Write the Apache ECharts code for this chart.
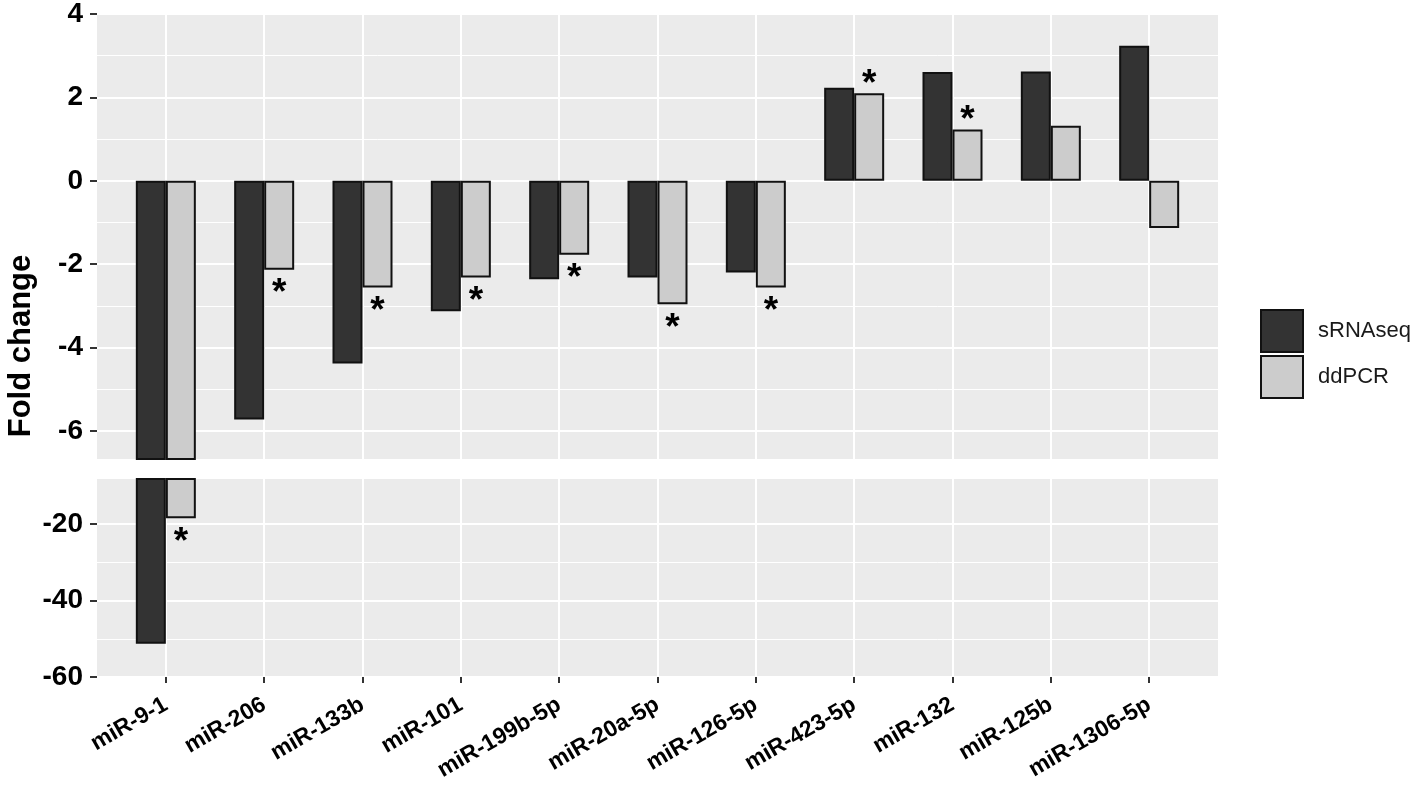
<!DOCTYPE html>
<html><head><meta charset="utf-8">
<script src="https://cdn.jsdelivr.net/npm/echarts@6/dist/echarts.min.js"></script>
<style>html,body{margin:0;padding:0;background:#fff}#c{width:1416px;height:788px}</style>
</head><body><div id="c"></div>
<script>
const categories = ['miR-9-1','miR-206','miR-133b','miR-101','miR-199b-5p','miR-20a-5p','miR-126-5p','miR-423-5p','miR-132','miR-125b','miR-1306-5p'];
const sRNAseq = [-51.3,-5.72,-4.38,-3.13,-2.36,-2.32,-2.20,2.23,2.61,2.62,3.24];
const ddPCR = [-18.5,-2.13,-2.56,-2.32,-1.77,-2.96,-2.56,2.10,1.23,1.32,-1.13];
const sRNAseqSignificant = [false,false,false,false,false,false,false,false,false,false,false];
const ddPCRSignificant = [true,true,true,true,true,true,true,true,true,false,false];
const topTicks = [-6,-4,-2,0,2,4];
const topMinor = [-5,-3,-1,1,3];
const bottomTicks = [-60,-40,-20];
const bottomMinor = [-50,-30];
const topRange = [-6.67, 4];
const bottomRange = [-60, -8.2];
const seriesNames = ['sRNAseq','ddPCR'];

const FONT = 'Liberation Sans, Arial, sans-serif';
const idx = categories.map((c,i)=>i);
const fills = {sRNAseq:'#333333', ddPCR:'#cccccc'};

function xAxisDef(grid, showLabels){
  return {
    type:'value', gridIndex:grid, min:-0.7, max:10.7, position:'bottom',
    axisLine:{show:false, onZero:false},
    axisTick:{show:showLabels, customValues:idx, length:6, lineStyle:{color:'#333', width:2}},
    axisLabel:{show:showLabels, customValues:idx, rotate:30, margin:26,
      formatter:v=>categories[Math.round(v)] || '',
      fontFamily:FONT, fontWeight:'bold', fontSize:23, color:'#000'},
    splitLine:{show:true, lineStyle:{color:'#fff', width:2}}
  };
}
function yAxisDef(grid, range, ticks, major){
  return {
    type:'value', gridIndex:grid, min:range[0], max:range[1], position:'left',
    axisLine:{show:false, onZero:false},
    axisTick:{show:major, customValues:ticks, length:7, lineStyle:{color:'#333', width:2}},
    axisLabel:{show:major, customValues:ticks, margin:14,
      fontFamily:FONT, fontWeight:'bold', fontSize:28, color:'#000'},
    splitLine:{show:true, lineStyle:{color:'#fff', width:major?2:1}}
  };
}
function barSeries(name, values, sig, grid, yIndex, range){
  return {
    type:'bar', name:name, xAxisIndex:grid, yAxisIndex:yIndex,
    barWidth:30, barGap:'0%', clip:true,
    itemStyle:{color:fills[name], borderColor:'#111', borderWidth:2},
    label:{show:false, formatter:'*', fontFamily:FONT, fontWeight:'bold', fontSize:37, color:'#000'},
    emphasis:{disabled:true},
    data: values.map((v,i)=>{
      const inside = v >= range[0] && v <= range[1];
      return {value:[i, v], label:{show: sig[i] && inside,
        position: v >= 0 ? 'top' : 'bottom', distance: v >= 0 ? -10 : 6}};
    })
  };
}

const chart = echarts.init(document.getElementById('c'), null, {renderer:'canvas'});
chart.setOption({
  animation:false,
  backgroundColor:'#fff',
  grid:[
    {left:97, width:1121, top:13, height:446, show:true, backgroundColor:'#ebebeb', borderWidth:0},
    {left:97, width:1121, top:479, height:198, show:true, backgroundColor:'#ebebeb', borderWidth:0}
  ],
  xAxis:[xAxisDef(0,false), xAxisDef(1,true)],
  yAxis:[
    yAxisDef(0, topRange, topTicks, true),
    yAxisDef(0, topRange, topMinor, false),
    yAxisDef(1, bottomRange, bottomTicks, true),
    yAxisDef(1, bottomRange, bottomMinor, false)
  ],
  legend:{
    data:seriesNames, orient:'vertical', left:1260, top:309, padding:0,
    itemWidth:42, itemHeight:42, itemGap:2, icon:'rect',
    itemStyle:{borderColor:'#111', borderWidth:2},
    textStyle:{fontFamily:FONT, fontSize:22, color:'#1a1a1a', padding:[0,0,0,10]},
    selectedMode:false
  },
  graphic:[{
    type:'text', x:21, y:346, rotation:Math.PI/2,
    style:{text:'Fold change', font:'bold 31px '+FONT, fill:'#000', textAlign:'center', textVerticalAlign:'middle'}
  }],
  series:[
    barSeries('sRNAseq', sRNAseq, sRNAseqSignificant, 0, 0, topRange),
    barSeries('ddPCR', ddPCR, ddPCRSignificant, 0, 0, topRange),
    barSeries('sRNAseq', sRNAseq, sRNAseqSignificant, 1, 2, bottomRange),
    barSeries('ddPCR', ddPCR, ddPCRSignificant, 1, 2, bottomRange)
  ]
});
</script></body></html>
